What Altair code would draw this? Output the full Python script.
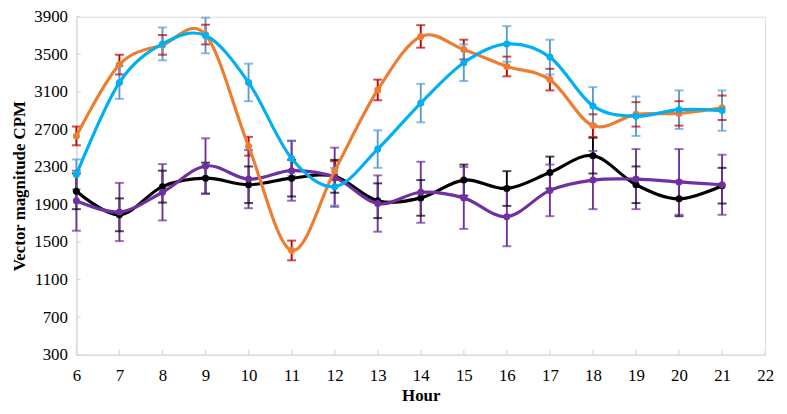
import altair as alt
import pandas as pd

hours = list(range(6, 22))

series_names = ["orange", "blue", "black", "purple"]
line_colors = ["#ED7D31", "#00B0F0", "#000000", "#7030A0"]
err_colors = ["#C00000", "#5B9BD5", "#000000", "#7030A0"]

orange_mean = [2630, 3390, 3600, 3710, 2520, 1410, 2260, 3120, 3690, 3550, 3370, 3230, 2740, 2860, 2870, 2930]
orange_err = [100, 105, 105, 105, 100, 105, 100, 110, 120, 105, 105, 115, 120, 130, 130, 130]
blue_mean = [2220, 3200, 3610, 3700, 3200, 2390, 2090, 2490, 2980, 3410, 3610, 3470, 2950, 2840, 2910, 2900]
blue_err = [160, 175, 175, 190, 200, 185, 200, 200, 205, 195, 190, 185, 200, 210, 205, 215]
black_mean = [2040, 1790, 2090, 2180, 2110, 2180, 2200, 1940, 1970, 2160, 2070, 2240, 2420, 2110, 1960, 2100]
black_err = [190, 175, 170, 165, 195, 195, 175, 185, 190, 165, 185, 170, 190, 195, 185, 190]
purple_mean = [1940, 1820, 2030, 2310, 2170, 2260, 2190, 1910, 2030, 1970, 1770, 2050, 2160, 2170, 2140, 2110]
purple_err = [320, 310, 300, 295, 310, 320, 315, 300, 325, 330, 315, 275, 310, 320, 350, 320]

y_ticks = [300, 700, 1100, 1500, 1900, 2300, 2700, 3100, 3500, 3900]
x_ticks = list(range(6, 23))

means = [orange_mean, blue_mean, black_mean, purple_mean]
errs = [orange_err, blue_err, black_err, purple_err]

rows = []
for name, m, e in zip(series_names, means, errs):
    for h, mv, ev in zip(hours, m, e):
        rows.append({"hour": h, "series": name, "mean": mv, "lo": mv - ev, "hi": mv + ev})
df = pd.DataFrame(rows)

FONT = "Liberation Serif"
AXIS_GREY = "#D9D9D9"

xscale = alt.Scale(domain=[6, 22], nice=False, zero=False)
yscale = alt.Scale(domain=[300, 3900], nice=False, zero=False)

common = dict(tickSize=0, format="d", labelOverlap=False, labelFlush=False,
              labelFontSize=17, labelFont=FONT, labelColor="#000000",
              titleFont=FONT, titleFontSize=17, titleFontWeight="bold", titleColor="#000000",
              domainColor=AXIS_GREY, domainWidth=1.3, grid=False)
x_axis = alt.Axis(values=x_ticks, labelPadding=13, titlePadding=4, **common)
y_axis = alt.Axis(values=y_ticks, labelPadding=9, titlePadding=5, **common)
XT = "Hour"
YT = "Vector magnitude CPM"


def X(field):
    return alt.X(field, scale=xscale, axis=x_axis, title=XT)


def Y(field):
    return alt.Y(field, scale=yscale, axis=y_axis, title=YT)


# inward axis ticks
ytick_df = pd.DataFrame({"v": y_ticks, "x0": [6] * len(y_ticks), "x1": [6.1] * len(y_ticks)})
xtick_df = pd.DataFrame({"h": x_ticks, "y0": [300] * len(x_ticks), "y1": [350] * len(x_ticks)})
ytk = alt.Chart(ytick_df).mark_rule(color=AXIS_GREY, strokeWidth=1.3).encode(
    x=X("x0:Q"), x2="x1", y=Y("v:Q"))
xtk = alt.Chart(xtick_df).mark_rule(color=AXIS_GREY, strokeWidth=1.3).encode(
    x=X("h:Q"), y=Y("y0:Q"), y2="y1")

base = alt.Chart(df)

err_color = alt.Color("series:N", scale=alt.Scale(domain=series_names, range=err_colors), legend=None)
line_color = alt.Color("series:N", scale=alt.Scale(domain=series_names, range=line_colors), legend=None)

err_rule = base.mark_rule(strokeWidth=1.9).encode(
    x=X("hour:Q"), y=Y("lo:Q"), y2="hi:Q", color=err_color)
err_top = base.mark_tick(orient="horizontal", size=9, thickness=2).encode(
    x=X("hour:Q"), y=Y("hi:Q"), color=err_color)
err_bot = base.mark_tick(orient="horizontal", size=9, thickness=2).encode(
    x=X("hour:Q"), y=Y("lo:Q"), color=err_color)

layers = [err_rule, err_top, err_bot]
for name in ["black", "purple", "orange", "blue"]:
    sub = base.transform_filter(alt.datum.series == name)
    layers.append(sub.mark_line(interpolate="cardinal", strokeWidth=3.2).encode(
        x=X("hour:Q"), y=Y("mean:Q"), color=line_color))
    layers.append(sub.mark_circle(size=50, opacity=1).encode(
        x=X("hour:Q"), y=Y("mean:Q"), color=line_color))

chart = alt.layer(ytk, xtk, *layers).resolve_scale(color="independent").properties(
    width=695, height=341,
    autosize=alt.AutoSizeParams(type="none"),
    padding={"left": 69, "top": 7, "right": 14, "bottom": 50},
).configure_view(stroke=None).configure(background="#FFFFFF", font=FONT)

chart.save("out.html", embed_options={"renderer": "svg", "actions": False})
